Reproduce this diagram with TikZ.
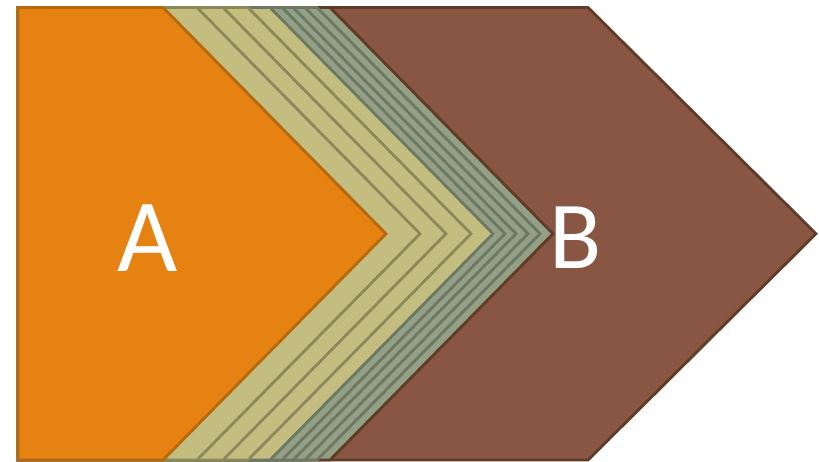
\documentclass[tikz,border=0pt]{standalone}
\usepackage{fontspec}
\setmainfont{Carlito}
\definecolor{orangefill}{RGB}{230,130,18}
\definecolor{orangeline}{RGB}{182,104,14}
\definecolor{khakifill}{RGB}{195,190,128}
\definecolor{khakiline}{RGB}{140,136,90}
\definecolor{greyfill}{RGB}{148,160,133}
\definecolor{greyline}{RGB}{108,120,100}
\definecolor{brownfill}{RGB}{136,86,66}
\definecolor{brownline}{RGB}{94,60,40}
\newcommand{\chevshape}[3]{%
  \filldraw[fill=#2,draw=#3,line width=2.8pt,line join=miter]
    (18,7.5) -- (#1,7.5) -- ({#1+223},233.75) -- (#1,460) -- (18,460) -- cycle;}
\tikzset{letter/.style={text=white,inner sep=0pt,anchor=base}}
\begin{document}
\begin{tikzpicture}[x=1pt,y=-1pt]
\useasboundingbox (0,0) rectangle (819,461);
\filldraw[fill=brownfill,draw=brownline,line width=2.8pt]
  (18,7.5) -- (588,7.5) -- (816,233.75) -- (588,460) -- (18,460) -- cycle;
\chevshape{330}{greyfill}{brownline}
\chevshape{317}{greyfill}{greyline}
\chevshape{305}{greyfill}{greyline}
\chevshape{293}{greyfill}{greyline}
\chevshape{282}{greyfill}{greyline}
\chevshape{270}{khakifill}{greyline}
\chevshape{248}{khakifill}{khakiline}
\chevshape{223}{khakifill}{khakiline}
\chevshape{197}{khakifill}{khakiline}
\chevshape{163}{orangefill}{orangeline}
\node[letter,font=\fontsize{104}{104}\selectfont] (a) at (148,271) {A};
\node[letter,font=\fontsize{96}{96}\selectfont] (b) at (576,268) {B};
\end{tikzpicture}
\end{document}
